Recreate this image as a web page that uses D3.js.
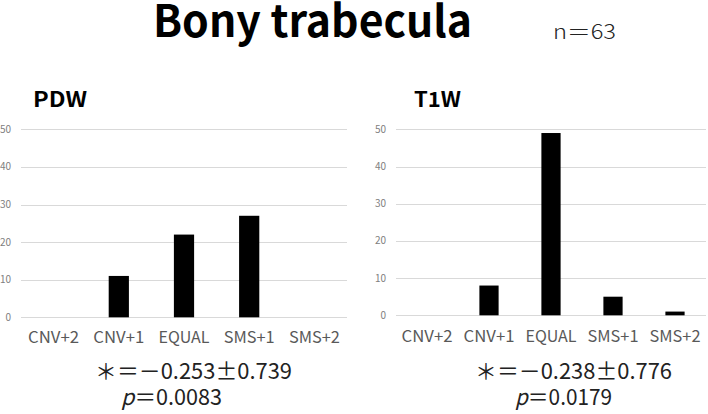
<!DOCTYPE html>
<html>
<head>
<meta charset="utf-8">
<script src="https://cdn.jsdelivr.net/npm/d3@7"></script>
<style>
  html, body { margin: 0; padding: 0; background: #fff; }
  svg { display: block; }
</style>
</head>
<body>
<svg id="chart" width="708" height="414"></svg>
<script>
// ---- data ----
const categories = ["CNV+2", "CNV+1", "EQUAL", "SMS+1", "SMS+2"];
const pdwValues = [0, 11, 22, 27, 0];
const t1wValues = [0, 8, 49, 5, 1];
const yTicks = [0, 10, 20, 30, 40, 50];
const titleText = "Bony trabecula";
const nText = "n\uFF1D63";
const panelTitles = ["PDW", "T1W"];
const statLines = ["\uFF0A\uFF1D\uFF0D0.253\u00B10.739", "\uFF0A\uFF1D\uFF0D0.238\u00B10.776"];
const pValues = ["0.0083", "0.0179"];

const svg = d3.select("#chart");
const FONT = "'Noto Sans CJK JP', 'Noto Sans', sans-serif";

svg.append("text")
  .attr("x", 153).attr("y", 37)
  .attr("font-family", FONT).attr("font-weight", 700)
  .attr("font-size", 44).attr("fill", "#000")
  .attr("textLength", 319).attr("lengthAdjust", "spacingAndGlyphs")
  .text(titleText);

svg.append("text")
  .attr("x", 553).attr("y", 39)
  .attr("font-family", FONT).attr("font-weight", 300)
  .attr("font-size", 21).attr("fill", "#222")
  .attr("textLength", 63).attr("lengthAdjust", "spacingAndGlyphs")
  .text(nText);

const panels = [
  { values: pdwValues, x0: 21, x1: 347, yTop: 129.3, yBot: 317.3, titleX: 33, titleW: 54, tickRight: 11,
    statX: 95, statW: 197, pX: 121, pW: 101, catY: 343 },
  { values: t1wValues, x0: 396, x1: 706, yTop: 129.3, yBot: 315.3, titleX: 414, titleW: 47, tickRight: 386,
    statX: 475, statW: 197, pX: 515, pW: 97, catY: 342 }
];

panels.forEach((p, i) => {
  const g = svg.append("g");
  const x = d3.scaleBand().domain(categories).range([p.x0, p.x1])
    .paddingInner(0.69).paddingOuter(0.345);
  const y = d3.scaleLinear().domain([0, 50]).range([p.yBot, p.yTop]);

  // gridlines
  g.selectAll("line.grid").data(yTicks).join("line")
    .attr("class", "grid")
    .attr("x1", p.x0).attr("x2", p.x1)
    .attr("y1", d => Math.round(y(d)) + 0.5).attr("y2", d => Math.round(y(d)) + 0.5)
    .attr("stroke", "#d9d9d9").attr("stroke-width", 1);

  // tick labels
  g.selectAll("text.tick").data(yTicks).join("text")
    .attr("class", "tick")
    .attr("x", p.tickRight).attr("y", d => y(d))
    .attr("dy", "0.35em").attr("text-anchor", "end")
    .attr("font-family", FONT).attr("font-size", 10).attr("fill", "#808080")
    .text(d => d);

  // bars
  g.selectAll("rect.bar").data(categories.map((c, j) => ({ c, v: p.values[j] })).filter(d => d.v > 0))
    .join("rect").attr("class", "bar")
    .attr("x", d => x(d.c)).attr("width", x.bandwidth())
    .attr("y", d => y(d.v)).attr("height", d => y(0) - y(d.v))
    .attr("fill", "#000");

  // category labels
  g.selectAll("text.cat").data(categories).join("text")
    .attr("class", "cat")
    .attr("x", d => x(d) + x.bandwidth() / 2).attr("y", p.catY)
    .attr("text-anchor", "middle")
    .attr("font-family", FONT).attr("font-weight", 400)
    .attr("font-size", 16).attr("fill", "#595959")
    .attr("textLength", 51).attr("lengthAdjust", "spacingAndGlyphs")
    .text(d => d);

  // panel title
  g.append("text")
    .attr("x", p.titleX).attr("y", 107)
    .attr("font-family", FONT).attr("font-weight", 700)
    .attr("font-size", 21).attr("fill", "#000")
    .attr("textLength", p.titleW).attr("lengthAdjust", "spacingAndGlyphs")
    .text(panelTitles[i]);

  // stats
  g.append("text")
    .attr("x", p.statX).attr("y", 379)
    .attr("font-family", FONT).attr("font-weight", 400)
    .attr("font-size", 22).attr("fill", "#222")
    .attr("textLength", p.statW).attr("lengthAdjust", "spacingAndGlyphs")
    .text(statLines[i]);

  const pt = g.append("text")
    .attr("x", p.pX).attr("y", 405)
    .attr("font-family", FONT).attr("font-weight", 400)
    .attr("font-size", 22).attr("fill", "#222")
    .attr("textLength", p.pW).attr("lengthAdjust", "spacingAndGlyphs");
  pt.append("tspan").attr("font-style", "italic").text("p");
  pt.append("tspan").text("\uFF1D" + pValues[i]);
});
</script>
</body>
</html>
